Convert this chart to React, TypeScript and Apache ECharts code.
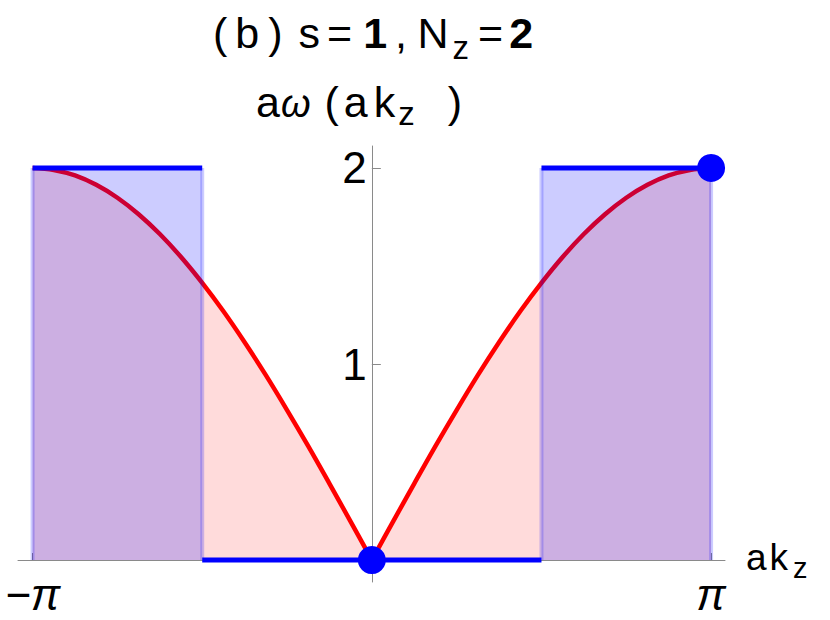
import React, { useEffect, useRef } from "react";
import * as echarts from "echarts";

// x values in units of π (ak_z / π)
const kOverPi = [
  -1, -0.9375, -0.875, -0.8125, -0.75, -0.6875, -0.625, -0.5625, -0.5, -0.4375, -0.375, -0.3125, -0.25,
  -0.1875, -0.125, -0.0625, 0, 0.0625, 0.125, 0.1875, 0.25, 0.3125, 0.375, 0.4375, 0.5, 0.5625, 0.625,
  0.6875, 0.75, 0.8125, 0.875, 0.9375, 1,
];
// red curve aω(ak_z)
const omegaValues = [
  2.0, 1.99, 1.962, 1.914, 1.848, 1.764, 1.663, 1.546, 1.414, 1.269, 1.111, 0.943, 0.765, 0.581, 0.39,
  0.196, 0, 0.196, 0.39, 0.581, 0.765, 0.943, 1.111, 1.269, 1.414, 1.546, 1.663, 1.764, 1.848, 1.914,
  1.962, 1.99, 2.0,
];
// blue step segments
const stepStart = [-1, -0.5, 0.5];
const stepEnd = [-0.5, 0.5, 1];
const stepValue = [2, 0, 2];
// blue dots
const dotX = [0, 1];
const dotY = [0, 2];
// ticks
const xTickValues = [-1, 1];
const xTickLabels = ["−π", "π"];
const yTickValues = [1, 2];

const FONT = "Liberation Sans";

const GRID_LEFT = 18;
const GRID_RIGHT = 105;
const GRID_TOP = 146;
const GRID_BOTTOM = 38;
const X_MIN = -1.043;
const X_MAX = 1.041;
const Y_MIN = -0.112;
const Y_MAX = 2.112;

type Piece = { t: string; fs: number; gap?: number; bold?: boolean; italic?: boolean; drop?: number };

const titleLine1: Piece[] = [
  { t: "(", fs: 43, gap: 8 },
  { t: "b", fs: 43, gap: 9 },
  { t: ")", fs: 43, gap: 16 },
  { t: "s", fs: 43, gap: 7 },
  { t: "=", fs: 43, gap: 11 },
  { t: "1", fs: 43, gap: 8, bold: true },
  { t: ",", fs: 43, gap: 10.5 },
  { t: "N", fs: 43, gap: 4 },
  { t: "z", fs: 33, gap: 9, drop: 11 },
  { t: "=", fs: 43, gap: 6 },
  { t: "2", fs: 43, bold: true },
];
const titleLine2: Piece[] = [
  { t: "a", fs: 43, gap: 1 },
  { t: "ω", fs: 38, gap: 14, italic: true },
  { t: "(", fs: 43, gap: 5 },
  { t: "a", fs: 43, gap: 6 },
  { t: "k", fs: 43, gap: 3 },
  { t: "z", fs: 33, gap: 33, drop: 8 },
  { t: ")", fs: 43 },
];
const xName: Piece[] = [
  { t: "a", fs: 37, gap: 3 },
  { t: "k", fs: 37, gap: 5 },
  { t: "z", fs: 29, drop: 8 },
];

export default function App() {
  const ref = useRef<HTMLDivElement>(null);
  useEffect(() => {
    if (!ref.current) return;
    const chart = echarts.init(ref.current, undefined, { renderer: "svg" });
    const W = 830;
    const H = 620;
    const gw = W - GRID_LEFT - GRID_RIGHT;
    const gh = H - GRID_TOP - GRID_BOTTOM;
    // move the axes onto the zero lines
    const yAxisOffset = -((0 - X_MIN) / (X_MAX - X_MIN)) * gw;
    const xAxisOffset = -((0 - Y_MIN) / (Y_MAX - Y_MIN)) * gh;

    const ctx = document.createElement("canvas").getContext("2d")!;
    const fontStr = (p: Piece) =>
      `${p.italic ? "italic" : "normal"} ${p.bold ? "bold" : "normal"} ${p.fs}px "${FONT}"`;
    const layoutPieces = (pieces: Piece[], x0: number, baseline: number) => {
      let x = x0;
      return pieces.map((p) => {
        ctx.font = fontStr(p);
        const w = ctx.measureText(p.t).width;
        const el = {
          type: "text",
          x,
          y: baseline + (p.drop ?? 0) - 0.3465 * p.fs,
          z: 10,
          style: {
            text: p.t,
            fontFamily: FONT,
            fontSize: p.fs,
            fontWeight: p.bold ? "bold" : "normal",
            fontStyle: p.italic ? "italic" : "normal",
            fill: "#000",
            align: "left",
            verticalAlign: "middle",
          },
        };
        x += w + (p.gap ?? 0);
        return el;
      });
    };

    const series: any[] = [];
    const leftIdx = kOverPi.map((k, i) => i).filter((i) => kOverPi[i] <= 0);
    const rightIdx = kOverPi.map((k, i) => i).filter((i) => kOverPi[i] >= 0);
    [leftIdx, rightIdx].forEach((idx) => {
      series.push({
        type: "line",
        data: idx.map((i) => [kOverPi[i], omegaValues[i]]),
        symbol: "none",
        smooth: 0.35,
        lineStyle: { color: "#ff0000", width: 4.5 },
        areaStyle: { color: "rgba(255,0,0,0.2)" },
        z: 2,
      });
    });
    stepStart.forEach((s, i) => {
      if (stepValue[i] !== 0) {
        series.push({
          type: "line",
          data: [
            [s, stepValue[i]],
            [stepEnd[i], stepValue[i]],
          ],
          symbol: "none",
          lineStyle: { width: 0 },
          areaStyle: { color: "rgba(0,0,255,0.2)", opacity: 1 },
          z: 3,
        });
        [s, stepEnd[i]].forEach((e) => {
          series.push({
            type: "line",
            data: [
              [e, 0],
              [e, stepValue[i]],
            ],
            symbol: "none",
            lineStyle: { color: "rgba(0,0,255,0.2)", width: 4 },
            z: 3,
          });
        });
      }
    });
    stepStart.forEach((s, i) => {
      series.push({
        type: "line",
        data: [
          [s, stepValue[i]],
          [stepEnd[i], stepValue[i]],
        ],
        symbol: "none",
        lineStyle: { color: "#0000ff", width: 5 },
        z: 4,
      });
    });
    series.push({
      type: "scatter",
      data: dotX.map((x, i) => [x, dotY[i]]),
      symbolSize: 28,
      itemStyle: { color: "#0000ff", opacity: 1 },
      z: 5,
    });

    chart.setOption({
      animation: false,
      grid: {
        left: GRID_LEFT,
        right: GRID_RIGHT,
        top: GRID_TOP,
        bottom: GRID_BOTTOM,
        containLabel: false,
        outerBoundsMode: "none",
      },
      xAxis: {
        type: "value",
        min: X_MIN,
        max: X_MAX,
        position: "bottom",
        offset: xAxisOffset,
        splitLine: { show: false },
        axisLine: { onZero: false, lineStyle: { color: "#8a8a8a", width: 1 } },
        axisTick: { inside: true, length: 7, customValues: xTickValues, lineStyle: { color: "#8a8a8a" } },
        axisLabel: {
          customValues: xTickValues,
          formatter: (v: number) => xTickLabels[xTickValues.indexOf(v)] ?? "",
          fontFamily: FONT,
          fontStyle: "italic",
          fontSize: 44,
          color: "#000",
          margin: 12,
        },
      },
      yAxis: {
        type: "value",
        min: Y_MIN,
        max: Y_MAX,
        position: "left",
        offset: yAxisOffset,
        splitLine: { show: false },
        axisLine: { onZero: false, lineStyle: { color: "#8a8a8a", width: 1 } },
        axisTick: { inside: true, length: 9, customValues: yTickValues, lineStyle: { color: "#8a8a8a" } },
        axisLabel: {
          customValues: yTickValues,
          fontFamily: FONT,
          fontSize: 44,
          color: "#000",
          margin: 5,
        },
      },
      graphic: [
        ...layoutPieces(titleLine1, 213, 48),
        ...layoutPieces(titleLine2, 256, 117),
        ...layoutPieces(xName, 746, 570),
      ],
      series,
    });
    return () => chart.dispose();
  }, []);
  return (
    <div
      ref={ref}
      style={{ position: "absolute", left: 0, top: 0, width: 830, height: 620, background: "#fff" }}
    />
  );
}
